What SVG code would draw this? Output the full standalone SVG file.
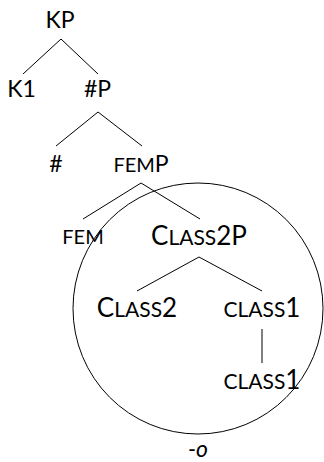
<svg xmlns="http://www.w3.org/2000/svg" width="324" height="462" viewBox="0 0 324 462">
<style>
text{font-family:Lato,"Liberation Sans",sans-serif;font-size:23px;fill:#000;text-anchor:middle}
.b{font-size:26px}
.sc{font-size:21px}
.scs{font-size:20px}
line,ellipse{stroke:#000;stroke-width:1;fill:none}
</style>
<rect width="324" height="462" fill="#fff"/>
<g id="connectors">
<line x1="61" y1="39" x2="23" y2="74"/>
<line x1="61" y1="39" x2="98" y2="74"/>
<line x1="98" y1="112" x2="56" y2="146"/>
<line x1="98" y1="112" x2="142" y2="146"/>
<line x1="141" y1="183" x2="83" y2="219"/>
<line x1="141" y1="183" x2="200" y2="219"/>
<line x1="199" y1="257" x2="137" y2="291"/>
<line x1="199" y1="257" x2="262" y2="291"/>
<line x1="262" y1="329" x2="262" y2="363"/>
</g>
<g id="circle"><ellipse cx="198" cy="308.5" rx="125" ry="125.5"/></g>
<g id="KP"><text x="60" y="28">KP</text></g>
<g id="K1"><text x="21.5" y="97">K1</text></g>
<g id="numP"><text x="97.5" y="97">#P</text></g>
<g id="num"><text x="56" y="172">#</text></g>
<g id="FEMP"><text x="141" y="172"><tspan class="scs">FEM</tspan>P</text></g>
<g id="FEM"><text x="83" y="244" class="scs">FEM</text></g>
<g id="CLASS2P"><text x="199" y="245" class="b">C<tspan class="sc">LASS</tspan>2P</text></g>
<g id="CLASS2"><text x="137" y="317" class="b">C<tspan class="sc">LASS</tspan>2</text></g>
<g id="class1a"><text x="262" y="317" class="b"><tspan class="sc">CLASS</tspan>1</text></g>
<g id="class1b"><text x="262" y="389" class="b"><tspan class="sc">CLASS</tspan>1</text></g>
<g id="o"><text x="198" y="457" style="font-style:italic">-o</text></g>
</svg>
